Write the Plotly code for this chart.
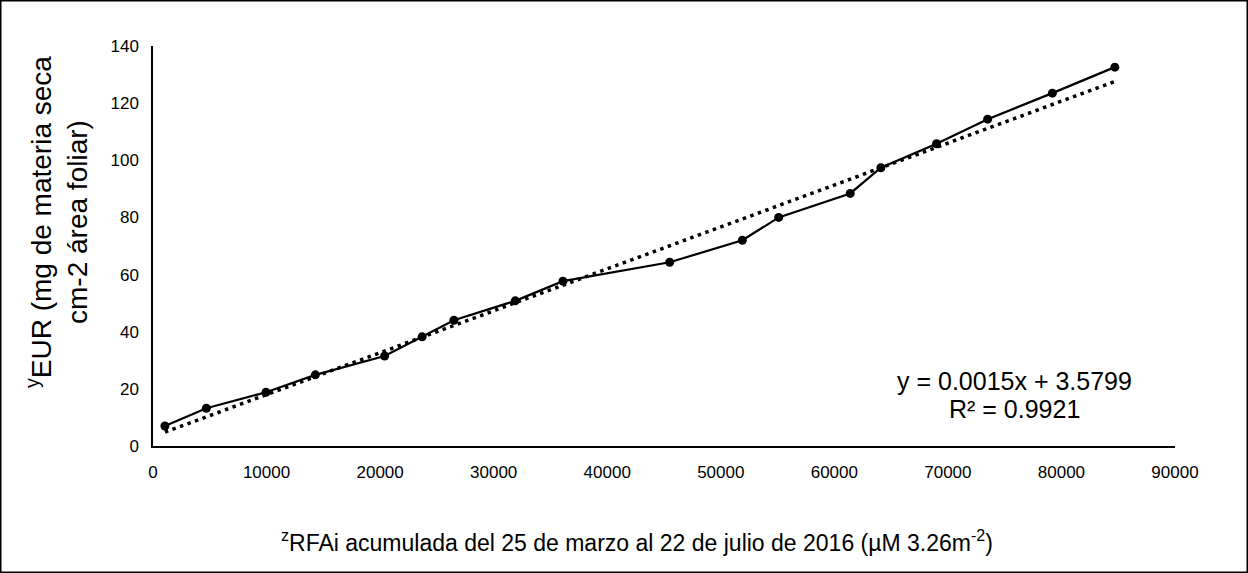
import numpy as np
import plotly.graph_objects as go

# Data
rfa_acum = [1050, 4700, 9950, 14300, 20400, 23700, 26500, 31900, 36100,
            45500, 51900, 55100, 61400, 64100, 69000, 73500, 79200, 84700]
eur = [7.0, 13.2, 18.8, 24.9, 31.5, 38.2, 44.0, 50.8, 57.7,
       64.3, 72.0, 80.0, 88.4, 97.4, 105.8, 114.4, 123.5, 132.6]
x_ticks = [0, 10000, 20000, 30000, 40000, 50000, 60000, 70000, 80000, 90000]
y_ticks = [0, 20, 40, 60, 80, 100, 120, 140]
eq_line1 = "y = 0.0015x + 3.5799"
eq_line2 = "R² = 0.9921"

# linear trendline (least squares) over the data
slope, intercept = np.polyfit(rfa_acum, eur, 1)
trend_x = [rfa_acum[0], rfa_acum[-1]]
trend_y = [slope * v + intercept for v in trend_x]

W, H = 1248, 573
ML, MR, MT, MB = 153, 73, 46, 127
PW, PH = W - ML - MR, H - MT - MB

FONT = "Liberation Sans, Arial, sans-serif"

fig = go.Figure()
fig.add_trace(go.Scatter(x=rfa_acum, y=eur, mode="lines+markers",
                         line=dict(color="black", width=2.2),
                         marker=dict(color="black", size=9),
                         showlegend=False))
fig.add_trace(go.Scatter(x=trend_x, y=trend_y, mode="lines",
                         line=dict(color="black", width=3.5, dash="3.5px,4.5px"),
                         showlegend=False))

def px_x(p):
    return (p - ML) / PW

def px_y(p):
    return (H - MB - p) / PH

fig.update_layout(
    width=W, height=H,
    margin=dict(l=ML, r=MR, t=MT, b=MB),
    paper_bgcolor="white", plot_bgcolor="white",
    font=dict(family=FONT, color="black", size=17),
    xaxis=dict(range=[0, 90000], tickvals=x_ticks, ticktext=[str(v) for v in x_ticks],
               showgrid=False, zeroline=False, showline=True, linecolor="black",
               linewidth=1.5, ticks="", ticklabelstandoff=10,
               tickfont=dict(size=17, family=FONT, color="black")),
    yaxis=dict(range=[0, 140], tickvals=y_ticks, ticktext=[str(v) for v in y_ticks],
               showgrid=False, zeroline=False, showline=True, linecolor="black",
               linewidth=1.5, ticks="", ticklabelstandoff=9,
               tickfont=dict(size=17, family=FONT, color="black")),
    annotations=[
        dict(text="<sup>y</sup>EUR (mg de materia seca<br>cm-2 área foliar)",
             xref="paper", yref="paper", x=px_x(57), y=px_y(222),
             xanchor="center", yanchor="middle", textangle=-90, showarrow=False,
             font=dict(size=28, family=FONT, color="black")),
        dict(text="<sup>z</sup>RFAi acumulada del 25 de marzo al 22 de julio de 2016 (µM 3.26m<sup>-2</sup>)",
             xref="paper", yref="paper", x=px_x(637), y=px_y(541),
             xanchor="center", yanchor="middle", showarrow=False,
             font=dict(size=23, family=FONT, color="black")),
        dict(text=eq_line1, xref="paper", yref="paper", x=px_x(1014), y=px_y(381),
             xanchor="center", yanchor="middle", showarrow=False,
             font=dict(size=25, family=FONT, color="black")),
        dict(text=eq_line2, xref="paper", yref="paper", x=px_x(1014), y=px_y(409),
             xanchor="center", yanchor="middle", showarrow=False,
             font=dict(size=25, family=FONT, color="black")),
    ],
    shapes=[dict(type="rect", xref="paper", yref="paper",
                 x0=px_x(0.75), x1=px_x(W - 0.75), y0=px_y(H - 0.75), y1=px_y(0.75),
                 line=dict(color="black", width=1.5), layer="above")],
)

fig.write_html("out.html", config={"displayModeBar": False},
               post_script="document.body.style.margin='0px';")
